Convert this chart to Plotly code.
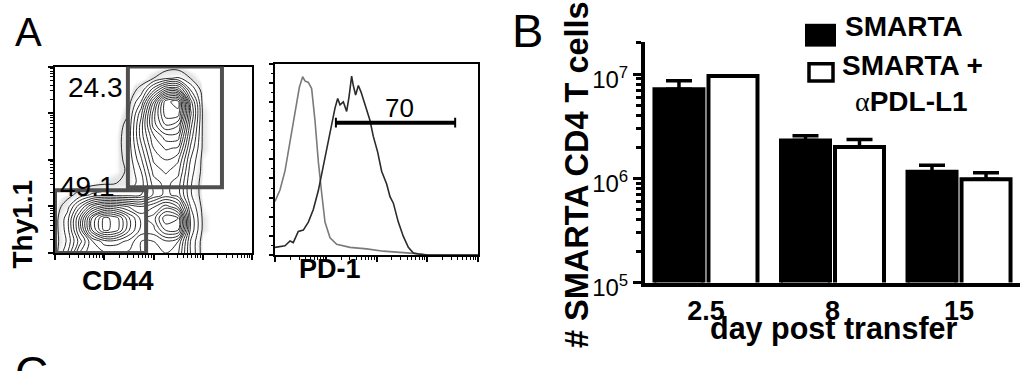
import numpy as np
import plotly.graph_objects as go

W, H = 1032, 371
FONT = "Liberation Sans"

# ---------------- Panel A (left): CD44 vs Thy1.1 density (log decades) -------------
grid_decades = [0.0, 0.25, 0.5, 0.75, 1.0, 1.25, 1.5, 1.75, 2.0, 2.25, 2.5, 2.75, 3.0, 3.25, 3.5, 3.75, 4.0]
density = [
    # y = 0.00 ... 4.00 (rows), x = 0.00 ... 4.00 (columns)
    [0, 1.5, 4.0, 5.0, 5.0, 5.0, 5.0, 4.5, 4.5, 4.5, 4.0, 1.5, 0, 0, 0, 0, 0],
    [0, 1.0, 3.0, 5.0, 6.0, 6.0, 5.5, 4.5, 4.5, 5.0, 4.5, 1.5, 0, 0, 0, 0, 0],
    [0, 1.2, 4.0, 7.5, 9.5, 9.0, 7.0, 5.5, 5.5, 7.0, 7.0, 2.0, 0.2, 0, 0, 0, 0],
    [0, 1.2, 4.0, 7.5, 9.5, 9.0, 7.0, 5.5, 6.0, 8.0, 7.5, 2.0, 0.2, 0, 0, 0, 0],
    [0, 0.6, 2.5, 4.5, 5.5, 5.5, 5.0, 4.5, 5.0, 6.0, 5.0, 1.5, 0.1, 0, 0, 0, 0],
    [0, 0.1, 0.5, 1.0, 1.2, 1.2, 1.2, 1.5, 2.8, 3.5, 3.0, 1.0, 0, 0, 0, 0, 0],
    [0, 0, 0, 0.1, 0.2, 0.3, 0.5, 1.2, 3.0, 3.5, 3.0, 1.0, 0, 0, 0, 0, 0],
    [0, 0, 0, 0, 0, 0.1, 0.4, 1.5, 3.5, 4.0, 3.5, 1.2, 0.1, 0, 0, 0, 0],
    [0, 0, 0, 0, 0, 0.1, 0.5, 2.0, 4.0, 4.5, 4.0, 1.5, 0.1, 0, 0, 0, 0],
    [0, 0, 0, 0, 0, 0.1, 0.6, 2.5, 4.5, 5.2, 5.0, 2.0, 0.2, 0, 0, 0, 0],
    [0, 0, 0, 0, 0, 0.1, 0.6, 3.0, 5.0, 6.0, 6.0, 2.5, 0.2, 0, 0, 0, 0],
    [0, 0, 0, 0, 0, 0.05, 0.5, 3.0, 6.0, 7.5, 7.0, 3.0, 0.2, 0, 0, 0, 0],
    [0, 0, 0, 0, 0, 0, 0.3, 2.5, 6.0, 8.5, 8.5, 3.5, 0.2, 0, 0, 0, 0],
    [0, 0, 0, 0, 0, 0, 0.1, 1.5, 5.0, 8.5, 9.0, 3.0, 0.1, 0, 0, 0, 0],
    [0, 0, 0, 0, 0, 0, 0, 0.5, 2.5, 4.5, 4.5, 1.5, 0, 0, 0, 0, 0],
    [0, 0, 0, 0, 0, 0, 0, 0, 0.3, 0.8, 1.0, 0.3, 0, 0, 0, 0, 0],
    [0, 0, 0, 0, 0, 0, 0, 0, 0, 0, 0, 0, 0, 0, 0, 0, 0],
]
gate_upper = dict(x0=1.48, x1=3.39, y0=1.41, y1=4.0, label="24.3")
gate_lower = dict(x0=0.0, x1=1.85, y0=0.0, y1=1.35, label="49.1")

# ---------------- Panel A (right): PD-1 histogram -------------
gray_x = [0.0, 0.098, 0.197, 0.296, 0.394, 0.48, 0.545, 0.59, 0.657, 0.722, 0.788, 0.854, 0.92,
          0.985, 1.084, 1.215, 1.478, 1.806, 2.134, 2.463, 2.79, 2.99, 3.5, 4.0]
gray_y = [28, 34, 44, 58.7, 75.3, 87.7, 93.2, 91, 90.2, 87, 70.3, 48.8, 32.3,
          17.2, 9.0, 5.6, 4.0, 3.2, 2.0, 1.5, 0.7, 0, 0, 0]
dark_x = [0.0, 0.197, 0.296, 0.36, 0.459, 0.558, 0.657, 0.755, 0.854, 0.952, 1.051, 1.117, 1.182,
          1.235, 1.281, 1.346, 1.412, 1.458, 1.51, 1.543, 1.589, 1.642, 1.694, 1.773, 1.872,
          1.937, 2.023, 2.101, 2.2, 2.266, 2.332, 2.43, 2.529, 2.627, 2.726, 2.824, 3.02, 3.48, 4.0]
dark_y = [4.0, 4.8, 7.3, 6.5, 12.3, 13, 17.2, 23.8, 33.7, 47, 60.2, 68.5, 76.8,
          81.8, 78.5, 80.1, 75.1, 82.6, 93.5, 88.6, 83.6, 88.6, 85.3, 78.7, 70.3,
          62, 53.8, 43.8, 37.1, 30.5, 27.1, 17.2, 9.7, 4.0, 1.0, 0.5, 0, 0, 0]
pd1_gate = dict(x0=1.2, x1=3.55, y=69.2, label="70")

# ---------------- Panel B: bar chart -------------
days = ["2.5", "8", "15"]
smarta = [7.16e6, 2.31e6, 1.16e6]
smarta_err = [1.48e6, 0.26e6, 0.18e6]
smarta_pdl1 = [9.6e6, 2.0e6, 0.98e6]
smarta_pdl1_err = [0.0, 0.36e6, 0.15e6]
ytick_vals = [1e5, 1e6, 1e7]
ytick_text = ["10<sup>5</sup>", "10<sup>6</sup>", "10<sup>7</sup>"]


def X(px):
    return px / W


def Y(py):
    return 1 - py / H


def dec(v):
    return 10 ** v


fig = go.Figure()

# density halo (speckled events) + contour lines
gx = [dec(d) for d in grid_decades]
fig.add_trace(go.Heatmap(
    x=gx, y=gx, z=density, zmin=0, zmax=10, zsmooth="best", showscale=False,
    colorscale=[[0, "white"], [0.008, "white"], [0.02, "#e4e4e4"], [0.05, "#ececec"],
                [0.08, "white"], [1, "white"]],
    xaxis="x", yaxis="y", hoverinfo="skip"))
fig.add_trace(go.Contour(
    x=gx, y=gx, z=density, showscale=False,
    contours=dict(coloring="lines", start=0.3, end=10, size=0.6),
    colorscale=[[0, "#151515"], [1, "#151515"]],
    line=dict(width=0.9, smoothing=1.0),
    xaxis="x", yaxis="y", hoverinfo="skip"))

# histogram curves
fig.add_trace(go.Scatter(x=[dec(v) for v in gray_x], y=gray_y, mode="lines",
                         line=dict(color="#7a7a7a", width=1.6), xaxis="x2", yaxis="y2"))
fig.add_trace(go.Scatter(x=[dec(v) for v in dark_x], y=dark_y, mode="lines",
                         line=dict(color="#2b2b2b", width=1.6), xaxis="x2", yaxis="y2"))

# bars
fig.add_trace(go.Bar(x=days, y=smarta, name="SMARTA", xaxis="x3", yaxis="y3",
                     marker=dict(color="black", line=dict(color="black", width=4)),
                     error_y=dict(type="data", symmetric=False, array=smarta_err,
                                  arrayminus=[0, 0, 0], color="black", thickness=3.5, width=13)))
fig.add_trace(go.Bar(x=days, y=smarta_pdl1, name="SMARTA + αPDL-L1", xaxis="x3", yaxis="y3",
                     marker=dict(color="white", line=dict(color="black", width=4)),
                     error_y=dict(type="data", symmetric=False, array=smarta_pdl1_err,
                                  arrayminus=[0, 0, 0], color="black", thickness=3.5, width=13)))

log_axis_common = dict(type="log", range=[0, 4], tickmode="linear", tick0=0, dtick=1,
                       showticklabels=False, ticks="outside", ticklen=5, tickwidth=1.5,
                       tickcolor="black", showline=True, linecolor="black", linewidth=1.5,
                       mirror=True, showgrid=False, zeroline=False,
                       minor=dict(ticks="outside", ticklen=3, tickwidth=1, tickcolor="black",
                                  dtick="D1", showgrid=False))

shapes = []
for g in (gate_upper, gate_lower):
    shapes.append(dict(type="rect", xref="x", yref="y", x0=dec(g["x0"]), x1=dec(g["x1"]),
                       y0=dec(g["y0"]), y1=dec(g["y1"]),
                       line=dict(color="#505050", width=4), layer="above"))
shapes.append(dict(type="line", xref="x2", yref="y2", x0=dec(pd1_gate["x0"]), x1=dec(pd1_gate["x1"]),
                   y0=pd1_gate["y"], y1=pd1_gate["y"], line=dict(color="black", width=4)))
for xe in (pd1_gate["x0"], pd1_gate["x1"]):
    shapes.append(dict(type="line", xref="x2", yref="y2", x0=dec(xe), x1=dec(xe),
                       y0=pd1_gate["y"] - 2.5, y1=pd1_gate["y"] + 2.5, line=dict(color="black", width=2)))
# legend swatches
shapes.append(dict(type="rect", xref="paper", yref="paper", x0=X(805), x1=X(836), y0=Y(49), y1=Y(25),
                   fillcolor="black", line=dict(color="black", width=0)))
shapes.append(dict(type="rect", xref="paper", yref="paper", x0=X(809), x1=X(833), y0=Y(85), y1=Y(67),
                   fillcolor="white", line=dict(color="black", width=3.5)))

bold = dict(family=FONT, color="black", weight="bold")
reg = dict(family=FONT, color="black")
annotations = [
    dict(text="A", x=X(28), y=Y(34), font=dict(reg, size=40)),
    dict(text="B", x=X(527), y=Y(32), font=dict(reg, size=47)),
    dict(text="C", x=X(31), y=Y(392), font=dict(reg, size=46)),
    dict(text=gate_upper["label"], x=X(95), y=Y(92), font=dict(reg, size=28)),
    dict(text=gate_lower["label"], x=X(87), y=Y(196), font=dict(reg, size=28)),
    dict(text="Thy1.1", x=X(23), y=Y(236), textangle=-90, font=dict(bold, size=28)),
    dict(text="CD44", x=X(118), y=Y(295), font=dict(bold, size=28)),
    dict(text="PD-1", x=X(330), y=Y(283), font=dict(bold, size=27)),
    dict(text=pd1_gate["label"], x=X(399), y=Y(114), font=dict(reg, size=26)),
    dict(text="# SMARTA CD4 T cells", x=X(577), y=Y(184), textangle=-90, font=dict(bold, size=32.5)),
    dict(text="day post transfer", x=X(834), y=Y(345), font=dict(bold, size=30.5)),
    dict(text="SMARTA", x=X(843), y=Y(28), xanchor="left", font=dict(bold, size=28)),
    dict(text="SMARTA +", x=X(840), y=Y(69), xanchor="left", font=dict(bold, size=28)),
    dict(text="<span style='font-family:Liberation Serif;font-weight:normal'>α</span>PDL-L1",
         x=X(853), y=Y(107), xanchor="left", font=dict(bold, size=28)),
]
for a in annotations:
    a.setdefault("xref", "paper")
    a.setdefault("yref", "paper")
    a.setdefault("showarrow", False)
    a.setdefault("xanchor", "center")
    a.setdefault("yanchor", "middle")

fig.update_layout(
    width=W, height=H, margin=dict(l=0, r=0, t=0, b=0),
    paper_bgcolor="white", plot_bgcolor="white", showlegend=False,
    barmode="group", bargap=0.146, bargroupgap=0.093,
    xaxis=dict(log_axis_common, domain=[X(55), X(252)], anchor="y"),
    yaxis=dict(log_axis_common, domain=[Y(266), Y(70)], anchor="x"),
    xaxis2=dict(log_axis_common, domain=[X(275), X(478)], anchor="y2"),
    yaxis2=dict(type="linear", range=[0, 100], domain=[Y(268), Y(67)], anchor="x2",
                showticklabels=False, ticks="outside", ticklen=4, tickwidth=1.5, tickcolor="black",
                dtick=10, showline=True, linecolor="black", linewidth=1.5, mirror=True,
                showgrid=False, zeroline=False,
                minor=dict(ticks="outside", ticklen=2, tickwidth=1, dtick=5, tickcolor="black")),
    xaxis3=dict(domain=[X(645), X(1020)], anchor="y3", range=[-0.482, 2.482],
                showline=True, linecolor="black", linewidth=4, ticks="",
                tickfont=dict(bold, size=27), ticklabelstandoff=1,
                showgrid=False, zeroline=False),
    yaxis3=dict(type="log", domain=[Y(297), Y(44)], anchor="x3", range=[5, 7.31],
                tickvals=ytick_vals, ticktext=ytick_text, tickfont=dict(reg, size=24),
                ticklabelshift=5,
                ticks="outside", ticklen=8, tickwidth=3, tickcolor="black",
                showline=True, linecolor="black", linewidth=4, showgrid=False, zeroline=False,
                minor=dict(ticks="outside", ticklen=5, tickwidth=2.5, tickcolor="black",
                           dtick="D1", showgrid=False)),
    shapes=shapes, annotations=annotations,
)

fig.write_html("out.html", config={"displayModeBar": False},
               post_script="document.body.style.margin='0';document.body.style.padding='0';")
